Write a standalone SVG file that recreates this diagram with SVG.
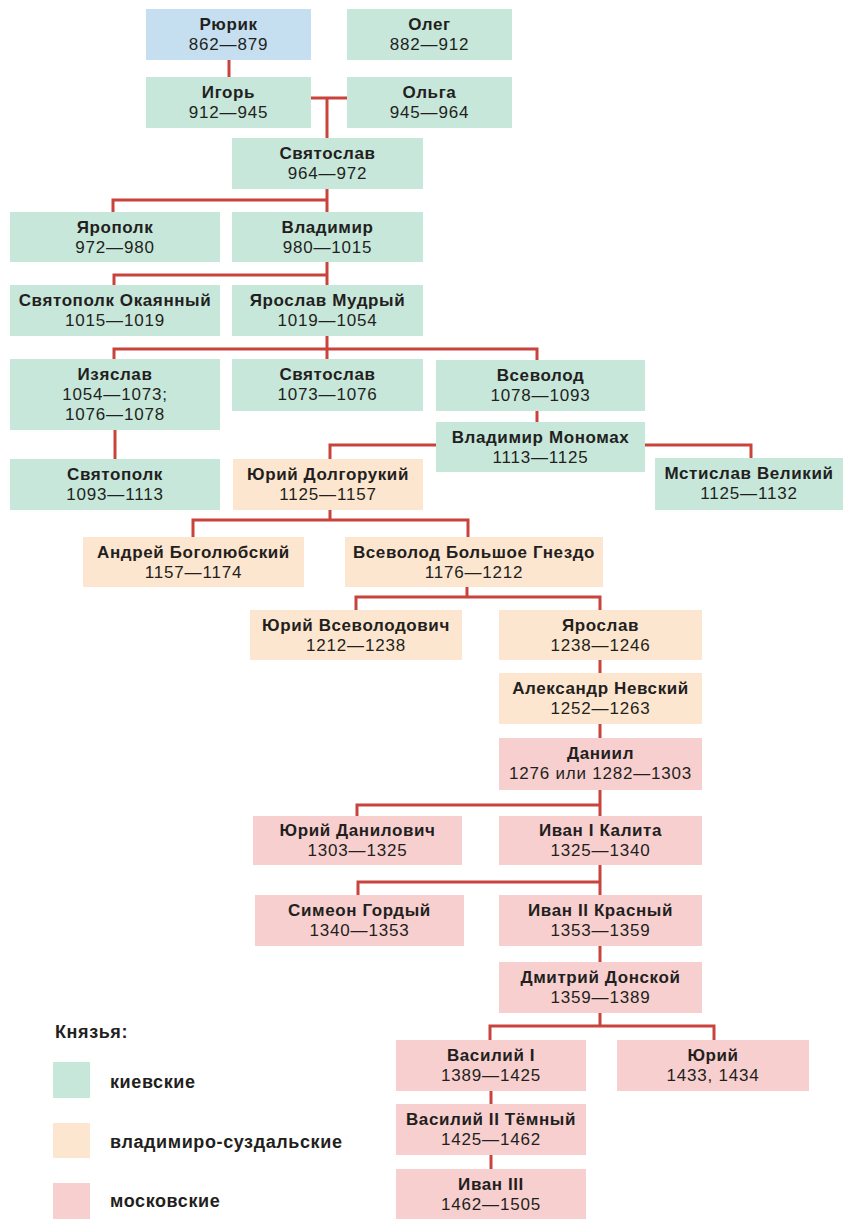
<svg xmlns="http://www.w3.org/2000/svg" width="843" height="1219" viewBox="0 0 843 1219">
<style>
.k{fill:#c7e7db}.b{fill:#c6dff0}.v{fill:#fde6cf}.m{fill:#f8cfcf}
text{font-family:"Liberation Sans",Arial,sans-serif;font-size:17px;fill:#231f20;text-anchor:middle;letter-spacing:0.8px}
.n{font-weight:700;letter-spacing:0.6px}
.lg{text-anchor:start;font-weight:700;font-size:18px;letter-spacing:0.6px}
.c{fill:none;stroke:#c9433d;stroke-width:3}
</style>
<rect width="843" height="1219" fill="#fff"/>
<g id="connectors" class="c">
<path d="M229 60V77"/>
<path d="M311 98H347M327 98V138"/>
<path d="M327 189V200M113 212V200H327V212"/>
<path d="M327 262V275M114 285V275H327V285"/>
<path d="M327 336V349M114 359V349H537V360M327 349V359"/>
<path d="M115 430V459"/>
<path d="M537 411V422"/>
<path d="M436 445H330V459"/>
<path d="M645 445H751V458"/>
<path d="M330 510V520M193 537V520H468V537"/>
<path d="M467 587V597M356 610V597H600V610"/>
<path d="M600 660V673M600 724V738"/>
<path d="M600 790V805M357 816V805H600V816"/>
<path d="M600 865V882M358 895V882H600V895"/>
<path d="M600 946V962"/>
<path d="M600 1013V1026M490 1040V1026H714V1040"/>
<path d="M491 1091V1104M491 1155V1169"/>
</g>
<g id="rurik"><rect class="b" x="146" y="9" width="165" height="51"/><text class="n" x="228.5" y="30">Рюрик</text><text x="228.5" y="50">862—879</text></g>
<g id="oleg"><rect class="k" x="347" y="9" width="165" height="51"/><text class="n" x="429.5" y="30">Олег</text><text x="429.5" y="50">882—912</text></g>
<g id="igor"><rect class="k" x="146" y="77" width="165" height="51"/><text class="n" x="228.5" y="98">Игорь</text><text x="228.5" y="118">912—945</text></g>
<g id="olga"><rect class="k" x="347" y="77" width="165" height="51"/><text class="n" x="429.5" y="98">Ольга</text><text x="429.5" y="118">945—964</text></g>
<g id="svyatoslav1"><rect class="k" x="232" y="138" width="191" height="51"/><text class="n" x="327.5" y="159">Святослав</text><text x="327.5" y="179">964—972</text></g>
<g id="yaropolk"><rect class="k" x="10" y="212" width="210" height="50"/><text class="n" x="115" y="233">Ярополк</text><text x="115" y="253">972—980</text></g>
<g id="vladimir"><rect class="k" x="232" y="212" width="191" height="50"/><text class="n" x="327.5" y="233">Владимир</text><text x="327.5" y="253">980—1015</text></g>
<g id="svyatopolk-okayanny"><rect class="k" x="10" y="285" width="210" height="51"/><text class="n" x="115" y="306">Святополк Окаянный</text><text x="115" y="326">1015—1019</text></g>
<g id="yaroslav-mudry"><rect class="k" x="232" y="285" width="191" height="51"/><text class="n" x="327.5" y="306">Ярослав Мудрый</text><text x="327.5" y="326">1019—1054</text></g>
<g id="izyaslav"><rect class="k" x="10" y="359" width="210" height="71"/><text class="n" x="115" y="380">Изяслав</text><text x="115" y="400">1054—1073;</text><text x="115" y="420">1076—1078</text></g>
<g id="svyatoslav2"><rect class="k" x="232" y="359" width="191" height="52"/><text class="n" x="327.5" y="380">Святослав</text><text x="327.5" y="400">1073—1076</text></g>
<g id="vsevolod"><rect class="k" x="436" y="360" width="209" height="51"/><text class="n" x="540.5" y="381">Всеволод</text><text x="540.5" y="401">1078—1093</text></g>
<g id="monomakh"><rect class="k" x="436" y="422" width="209" height="50"/><text class="n" x="540.5" y="443">Владимир Мономах</text><text x="540.5" y="463">1113—1125</text></g>
<g id="svyatopolk"><rect class="k" x="10" y="459" width="210" height="51"/><text class="n" x="115" y="480">Святополк</text><text x="115" y="500">1093—1113</text></g>
<g id="yuri-dolgoruky"><rect class="v" x="233" y="459" width="190" height="51"/><text class="n" x="328" y="480">Юрий Долгорукий</text><text x="328" y="500">1125—1157</text></g>
<g id="mstislav"><rect class="k" x="655" y="458" width="188" height="52"/><text class="n" x="749" y="479">Мстислав Великий</text><text x="749" y="499">1125—1132</text></g>
<g id="andrei"><rect class="v" x="83" y="537" width="221" height="50"/><text class="n" x="193.5" y="558">Андрей Боголюбский</text><text x="193.5" y="578">1157—1174</text></g>
<g id="vsevolod-bg"><rect class="v" x="345" y="537" width="258" height="50"/><text class="n" x="474" y="558">Всеволод Большое Гнездо</text><text x="474" y="578">1176—1212</text></g>
<g id="yuri-vsevolodovich"><rect class="v" x="250" y="610" width="212" height="50"/><text class="n" x="356" y="631">Юрий Всеволодович</text><text x="356" y="651">1212—1238</text></g>
<g id="yaroslav"><rect class="v" x="499" y="610" width="203" height="50"/><text class="n" x="600.5" y="631">Ярослав</text><text x="600.5" y="651">1238—1246</text></g>
<g id="nevsky"><rect class="v" x="499" y="673" width="203" height="51"/><text class="n" x="600.5" y="694">Александр Невский</text><text x="600.5" y="714">1252—1263</text></g>
<g id="daniil"><rect class="m" x="499" y="738" width="203" height="52"/><text class="n" x="600.5" y="759">Даниил</text><text x="600.5" y="779">1276 или 1282—1303</text></g>
<g id="yuri-danilovich"><rect class="m" x="253" y="816" width="209" height="49"/><text class="n" x="357.5" y="836">Юрий Данилович</text><text x="357.5" y="856">1303—1325</text></g>
<g id="ivan1"><rect class="m" x="499" y="816" width="203" height="49"/><text class="n" x="600.5" y="836">Иван I Калита</text><text x="600.5" y="856">1325—1340</text></g>
<g id="simeon"><rect class="m" x="255" y="895" width="209" height="51"/><text class="n" x="359.5" y="916">Симеон Гордый</text><text x="359.5" y="936">1340—1353</text></g>
<g id="ivan2"><rect class="m" x="499" y="895" width="203" height="51"/><text class="n" x="600.5" y="916">Иван II Красный</text><text x="600.5" y="936">1353—1359</text></g>
<g id="dmitry"><rect class="m" x="499" y="962" width="203" height="51"/><text class="n" x="600.5" y="983">Дмитрий Донской</text><text x="600.5" y="1003">1359—1389</text></g>
<g id="vasily1"><rect class="m" x="396" y="1040" width="190" height="51"/><text class="n" x="491" y="1061">Василий I</text><text x="491" y="1081">1389—1425</text></g>
<g id="yuri"><rect class="m" x="617" y="1040" width="192" height="51"/><text class="n" x="713" y="1061">Юрий</text><text x="713" y="1081">1433, 1434</text></g>
<g id="vasily2"><rect class="m" x="396" y="1104" width="190" height="51"/><text class="n" x="491" y="1125">Василий II Тёмный</text><text x="491" y="1145">1425—1462</text></g>
<g id="ivan3"><rect class="m" x="396" y="1169" width="190" height="50"/><text class="n" x="491" y="1190">Иван III</text><text x="491" y="1210">1462—1505</text></g>
<g id="legend">
<text class="lg" x="55" y="1038">Князья:</text>
<rect class="k" x="53" y="1062" width="37" height="36"/><text class="lg" x="110" y="1088">киевские</text>
<rect class="v" x="53" y="1123" width="37" height="35"/><text class="lg" x="110" y="1148">владимиро-суздальские</text>
<rect class="m" x="53" y="1183" width="37" height="36"/><text class="lg" x="110" y="1207">московские</text>
</g>
</svg>
